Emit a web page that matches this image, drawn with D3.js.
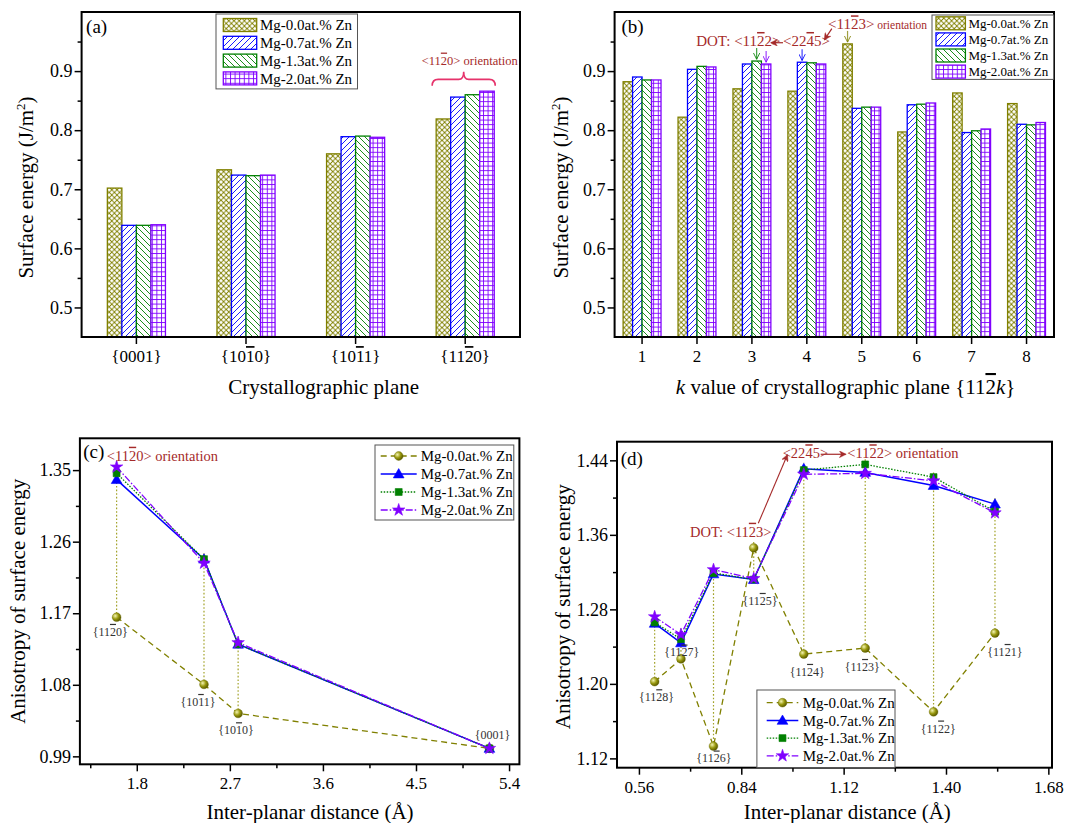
<!DOCTYPE html>
<html><head><meta charset="utf-8">
<script src="https://cdn.jsdelivr.net/npm/d3@7"></script>
<style>
body{margin:0;background:#fff}
svg{display:block}
text{font-family:"Liberation Serif","Times New Roman",serif}
</style>
</head><body>
<svg id="chart" width="1065" height="823"></svg>
<script>
// ---------------- DATA ----------------
const seriesNames = ["Mg-0.0at.% Zn","Mg-0.7at.% Zn","Mg-1.3at.% Zn","Mg-2.0at.% Zn"];

// (a) surface energy of low-index planes
const planesA = ["{0001}","{10_10}","{10_11}","{11_20}"];
const energyA00 = [0.702,0.733,0.760,0.819];
const energyA07 = [0.639,0.724,0.789,0.856];
const energyA13 = [0.639,0.723,0.790,0.860];
const energyA20 = [0.640,0.724,0.788,0.866];

// (b) surface energy of {11-2k} planes
const kValues = [1,2,3,4,5,6,7,8];
const energyB00 = [0.882,0.822,0.870,0.866,0.946,0.797,0.863,0.845];
const energyB07 = [0.890,0.903,0.912,0.915,0.837,0.843,0.796,0.810];
const energyB13 = [0.885,0.908,0.917,0.914,0.839,0.844,0.799,0.809];
const energyB20 = [0.885,0.907,0.912,0.912,0.839,0.846,0.802,0.813];

// bar axes
const barYTicks = [0.5,0.6,0.7,0.8,0.9];
const barYMinor = [0.55,0.65,0.75,0.85,0.95];

// (c) anisotropy vs inter-planar distance, low-index planes
const distC = [1.605,2.45,2.78,5.21];
const planesC = ["{11_20}","{10_11}","{10_10}","{0001}"];
const aniC00 = [1.165,1.0805,1.044,1.000];
const aniC07 = [1.338,1.238,1.131,1.000];
const aniC13 = [1.346,1.238,1.131,1.000];
const aniC20 = [1.354,1.233,1.133,1.000];
const cXTicks = [1.8,2.7,3.6,4.5,5.4];
const cXMinor = [1.35,2.25,3.15,4.05,4.95];
const cYTicks = [0.99,1.08,1.17,1.26,1.35];
const cYMinor = [1.035,1.125,1.215,1.305];

// (d) anisotropy vs inter-planar distance, {11-2k} planes (k = 8 ... 1)
const distD = [0.603,0.675,0.764,0.874,1.011,1.179,1.366,1.534];
const planesD = ["{11_28}","{11_27}","{11_26}","{11_25}","{11_24}","{11_23}","{11_22}","{11_21}"];
const aniD00 = [1.2024,1.2268,1.1332,1.346,1.232,1.2384,1.170,1.2545];
const aniD07 = [1.265,1.244,1.318,1.312,1.431,1.427,1.413,1.393];
const aniD13 = [1.266,1.248,1.319,1.312,1.4295,1.4356,1.422,1.385];
const aniD20 = [1.272,1.253,1.3226,1.313,1.425,1.426,1.418,1.3836];
const dXTicks = [0.56,0.84,1.12,1.40,1.68];
const dXMinor = [0.70,0.98,1.26,1.54];
const dYTicks = [1.12,1.20,1.28,1.36,1.44];
const dYMinor = [1.16,1.24,1.32,1.40];

// ---------------- STYLE / LAYOUT ----------------
const colors = ["#808000","#0000ff","#008000","#8000ff"];
const patternKinds = ["cross","fwd","back","grid"];
const annoColor = "#a52a2a";
const boxA = {l:81.6,t:12,r:520,b:337};
const boxB = {l:614.6,t:12,r:1054,b:337};
const boxC = {l:79.9,t:438.3,r:519.4,b:764.3};
const boxD = {l:617,t:441.7,r:1052,b:767.7};

const svg = d3.select("#chart");
const defs = svg.append("defs");

function makePattern(id, color, kind){
  const s = kind==="grid"?4.6:(kind==="cross"?5.2:6);
  const p = defs.append("pattern").attr("id",id).attr("patternUnits","userSpaceOnUse")
    .attr("width",s).attr("height",s);
  p.append("rect").attr("width",s).attr("height",s).attr("fill","#fff");
  const g = p.append("g").attr("stroke",color).attr("stroke-width",0.9).attr("fill","none");
  if(kind==="fwd"||kind==="cross") g.append("path").attr("d",`M-1,1 L1,-1 M0,${s} L${s},0 M${s-1},${s+1} L${s+1},${s-1}`);
  if(kind==="back"||kind==="cross") g.append("path").attr("d",`M-1,${s-1} L1,${s+1} M0,0 L${s},${s} M${s-1},-1 L${s+1},1`);
  if(kind==="grid") g.append("path").attr("d",`M0,0.5 H${s} M0.5,0 V${s}`);
}
colors.forEach((c,i)=>makePattern("pat"+i,c,patternKinds[i]));

const grad = defs.append("radialGradient").attr("id","ball").attr("cx","35%").attr("cy","35%").attr("r","65%");
grad.append("stop").attr("offset","0%").attr("stop-color","#f4f4b0");
grad.append("stop").attr("offset","55%").attr("stop-color","#9a9a10");
grad.append("stop").attr("offset","100%").attr("stop-color","#5e5e00");

function arrowMarker(id,color,filled){
  defs.append("marker").attr("id",id).attr("viewBox","0 0 10 10").attr("refX",9).attr("refY",5)
    .attr("markerWidth",filled?8:7).attr("markerHeight",filled?7:7).attr("markerUnits","userSpaceOnUse")
    .attr("orient","auto")
    .append("path").attr("d",filled?"M0,0 L10,5 L0,10 L3,5 z":"M0,0.5 L9,5 L0,9.5")
    .attr("fill",filled?color:"none").attr("stroke",color).attr("stroke-width",filled?0.5:1.2);
}
arrowMarker("arRed",annoColor,true);
colors.forEach((c,i)=>arrowMarker("ar"+i,c,false));

// rich text: "_x" overlines x, "~x" italic x
function rich(sel,str){
  sel.text(null);
  let i=0;
  while(i<str.length){
    if(str[i]==="_"){
      sel.append("tspan").style("text-decoration","overline").attr("text-decoration","overline").text(str[i+1]); i+=2;
    } else if(str[i]==="~"){
      sel.append("tspan").style("font-style","italic").text(str[i+1]); i+=2;
    } else {
      let j=i; while(j<str.length && str[j]!=="_" && str[j]!=="~") j++;
      sel.append("tspan").text(str.slice(i,j)); i=j;
    }
  }
}

function frame(box){
  svg.append("rect").attr("x",box.l).attr("y",box.t).attr("width",box.r-box.l).attr("height",box.b-box.t)
    .attr("fill","none").attr("stroke","#000").attr("stroke-width",2);
}

function styleAxis(g,fs){
  g.select(".domain").remove();
  g.selectAll(".tick line").attr("stroke","#000").attr("stroke-width",1.5);
  g.selectAll(".tick text").attr("font-size",fs).attr("fill","#000").attr("font-family","Liberation Serif");
}

function leftAxis(box,y,ticks,minor,fmt){
  const g=svg.append("g").attr("transform",`translate(${box.l},0)`)
    .call(d3.axisLeft(y).tickValues(ticks).tickSize(7).tickPadding(2).tickFormat(fmt));
  styleAxis(g,18);
  const m=svg.append("g").attr("transform",`translate(${box.l},0)`)
    .call(d3.axisLeft(y).tickValues(minor).tickSize(4).tickFormat(""));
  styleAxis(m,18);
}
function bottomAxis(box,x,ticks,minor,fmt,richFn){
  const g=svg.append("g").attr("transform",`translate(0,${box.b})`)
    .call(d3.axisBottom(x).tickValues(ticks).tickSize(7).tickPadding(6).tickFormat(fmt));
  styleAxis(g,17);
  if(richFn) g.selectAll(".tick text").each(function(d){rich(d3.select(this),richFn(d));});
  if(minor){
    const m=svg.append("g").attr("transform",`translate(0,${box.b})`)
      .call(d3.axisBottom(x).tickValues(minor).tickSize(4).tickFormat(""));
    styleAxis(m,17);
  }
}

function yTitle(cx,cy,build){
  const t=svg.append("text").attr("transform",`translate(${cx},${cy}) rotate(-90)`)
    .attr("text-anchor","middle").attr("dy","0.35em").attr("font-size",21);
  build(t);
}
function xTitle(cx,by,str){
  const t=svg.append("text").attr("x",cx).attr("y",by).attr("text-anchor","middle").attr("font-size",21);
  rich(t,str);
}
function panelLabel(box,str,dx,dy){
  svg.append("text").attr("x",box.l+dx).attr("y",box.t+dy).attr("font-size",19).text(str);
}
function energyTitle(t){
  t.append("tspan").text("Surface energy (J/m");
  t.append("tspan").attr("dy",-8).attr("font-size",13).text("2");
  t.append("tspan").attr("dy",8).text(")");
}

// ---------------- BAR PANELS ----------------
function barPanel(box,cats,vals,groupFrac,tickFmt,richFn){
  const x=d3.scaleBand().domain(cats).range([box.l,box.r]).padding(0);
  const y=d3.scaleLinear().domain([0.45,1.0]).range([box.b,box.t]);
  const gw=x.bandwidth()*groupFrac;
  const x1=d3.scaleBand().domain(d3.range(4)).range([0,gw]).padding(0);
  const off=(x.bandwidth()-gw)/2;
  const g=svg.append("g");
  vals.forEach((arr,si)=>{
    g.selectAll(null).data(cats.map((c,i)=>({c,v:arr[i]}))).join("rect")
      .attr("x",d=>x(d.c)+off+x1(si)).attr("y",d=>y(d.v))
      .attr("width",x1.bandwidth()).attr("height",d=>y(0.45)-y(d.v))
      .attr("fill",`url(#pat${si})`).attr("stroke",colors[si]).attr("stroke-width",1.3);
  });
  leftAxis(box,y,barYTicks,barYMinor,d3.format(".1f"));
  bottomAxis(box,x,cats,null,tickFmt,richFn);
  frame(box);
  return {x,y,x1,off};
}

function barLegend(left,top,right,rowStart,rowStep,swX,swW,swH,txtX,fs){
  svg.append("rect").attr("x",left).attr("y",top).attr("width",right-left).attr("height",rowStart*2+rowStep*3-0.5)
    .attr("fill","#fff").attr("stroke","#555").attr("stroke-width",1);
  seriesNames.forEach((n,i)=>{
    const cy=top+rowStart+i*rowStep;
    svg.append("rect").attr("x",left+swX).attr("y",cy-swH/2).attr("width",swW).attr("height",swH)
      .attr("fill",`url(#pat${i})`).attr("stroke",colors[i]).attr("stroke-width",1.3);
    svg.append("text").attr("x",left+txtX).attr("y",cy).attr("dy","0.35em").attr("font-size",fs).text(n);
  });
}

// (a)
const A = barPanel(boxA,planesA,[energyA00,energyA07,energyA13,energyA20],0.53,d=>d,d=>d);
barLegend(216,14,357.5,11,17.8,7.3,33.4,13,44,15);
panelLabel(boxA,"(a)",4.5,21);
yTitle(25.8,(boxA.t+boxA.b)/2+13,energyTitle);
xTitle(323.7,394,"Crystallographic plane");
{
  const c=planesA[3];
  const x0=A.x(c)+A.off-4, x1=A.x(c)+A.x.bandwidth()-A.off+1, xm=(x0+x1)/2;
  const yE=A.y(0.875), yH=A.y(0.886), yP=A.y(0.899);
  svg.append("path").attr("d",`M${x0},${yE} Q${x0},${yH} ${x0+6},${yH} L${xm-5},${yH} Q${xm},${yH} ${xm},${yP} Q${xm},${yH} ${xm+5},${yH} L${x1-6},${yH} Q${x1},${yH} ${x1},${yE}`)
    .attr("fill","none").attr("stroke","#e6336b").attr("stroke-width",1.6);
  const t=svg.append("text").attr("x",xm+6).attr("y",A.y(0.911)).attr("text-anchor","middle")
    .attr("font-size",12.5).attr("fill",annoColor);
  rich(t,"<11_20> orientation");
}

// (b)
const B = barPanel(boxB,kValues,[energyB00,energyB07,energyB13,energyB20],0.69,d=>d,null);
barLegend(932,15,1053.7,8.3,16.1,4,29.4,13,36.4,13);
panelLabel(boxB,"(b)",6.8,21);
yTitle(560.7,(boxB.t+boxB.b)/2+13,energyTitle);
xTitle(845.6,394,"~k value of crystallographic plane {11_2~k}");
{
  const kx=k=>B.x(1)+B.x.bandwidth()/2+(k-1)*B.x.step();
  const barC=(k,si)=>B.x(k)+B.off+B.x1(si)+B.x1.bandwidth()/2;
  const t1=svg.append("text").attr("x",kx(1.985)).attr("y",B.y(0.9425)).attr("font-size",15).attr("fill",annoColor);
  rich(t1,"DOT: <11_22>");
  const t2=svg.append("text").attr("x",kx(3.566)).attr("y",B.y(0.9425)).attr("font-size",15).attr("fill",annoColor);
  rich(t2,"<22_45>");
  const t3=svg.append("text").attr("x",kx(4.386)).attr("y",B.y(0.9707)).attr("font-size",15).attr("fill",annoColor);
  rich(t3,"<11_23>");
  t3.append("tspan").attr("font-size",11.5).text(" orientation");
  svg.append("line").attr("x1",kx(3.566)).attr("y1",B.y(0.948)).attr("x2",kx(3.35)).attr("y2",B.y(0.948))
    .attr("stroke",annoColor).attr("stroke-width",1.2).attr("marker-end","url(#arRed)");
  svg.append("line").attr("x1",kx(4.455)).attr("y1",B.y(0.972)).attr("x2",kx(4.322)).attr("y2",B.y(0.9533))
    .attr("stroke",annoColor).attr("stroke-width",1.2).attr("marker-end","url(#arRed)");
  const small=[{k:3,si:2,v:energyB13[2]},{k:3,si:3,v:energyB20[2]},{k:4,si:1,v:energyB07[3]},{k:5,si:0,v:energyB00[4]}];
  small.forEach(s=>{
    svg.append("line").attr("x1",barC(s.k,s.si)).attr("x2",barC(s.k,s.si))
      .attr("y1",B.y(s.v+0.022)).attr("y2",B.y(s.v+0.003))
      .attr("stroke",colors[s.si]).attr("stroke-opacity",0.75).attr("stroke-width",1.2).attr("marker-end",`url(#ar${s.si})`);
  });
}

// ---------------- LINE PANELS ----------------
const dashes=["6,4",null,"1.5,1.5","7,2,1.5,2"];
const widths=[1.3,1.5,1.3,1.3];
function drawMarker(g,si,x,y){
  if(si===0){
    g.append("circle").attr("cx",x).attr("cy",y).attr("r",4.4).attr("fill","url(#ball)").attr("stroke","#6b6b00").attr("stroke-width",0.4);
  } else {
    const type=[null,d3.symbolTriangle,d3.symbolSquare,d3.symbolStar][si];
    const size=[0,50,48,48][si];
    g.append("path").attr("d",d3.symbol().type(type).size(size)()).attr("transform",`translate(${x},${y+(si===1?0.8:0)})`)
      .attr("fill",colors[si]).attr("stroke",colors[si]).attr("stroke-width",0.6);
  }
}
function linePanel(box,xd,yd,xs,vals,xT,xM,yT,yM,fx,fy,labels,labelPos){
  const x=d3.scaleLinear().domain(xd).range([box.l,box.r]);
  const y=d3.scaleLinear().domain(yd).range([box.b,box.t]);
  const g=svg.append("g");
  xs.forEach((xv,i)=>{
    const ys=vals.map(s=>s[i]);
    const mn=d3.min(ys), mx=d3.max(ys);
    if(mx-mn>0.001){
      g.append("line").attr("x1",x(xv)).attr("x2",x(xv)).attr("y1",y(mn)).attr("y2",y(mx)-6)
        .attr("stroke","#a3a32a").attr("stroke-width",1.2).attr("stroke-dasharray","1.6,2");
    }
  });
  vals.forEach((arr,si)=>{
    const line=d3.line().x((d,i)=>x(xs[i])).y(d=>y(d));
    g.append("path").attr("d",line(arr)).attr("fill","none").attr("stroke",colors[si])
      .attr("stroke-width",widths[si]).attr("stroke-dasharray",dashes[si]);
  });
  vals.forEach((arr,si)=>arr.forEach((v,i)=>drawMarker(g,si,x(xs[i]),y(v))));
  labels.forEach((lb,i)=>{
    const t=g.append("text").attr("x",x(labelPos[i][0])).attr("y",y(labelPos[i][1])).attr("dy","0.35em")
      .attr("text-anchor","middle").attr("font-size",12).attr("fill","#333");
    rich(t,lb);
  });
  leftAxis(box,y,yT,yM,fy);
  bottomAxis(box,x,xT,xM,fx,null);
  frame(box);
  return {x,y};
}
function lineLegend(left,top,right,rowStart,rowStep,l0,l1,txtX,fs){
  svg.append("rect").attr("x",left).attr("y",top).attr("width",right-left).attr("height",rowStart*2+rowStep*3-1)
    .attr("fill","#fff").attr("stroke","#555").attr("stroke-width",1);
  const g=svg.append("g");
  seriesNames.forEach((n,i)=>{
    const cy=top+rowStart+i*rowStep;
    g.append("line").attr("x1",left+l0).attr("x2",left+l1).attr("y1",cy).attr("y2",cy)
      .attr("stroke",colors[i]).attr("stroke-width",widths[i]).attr("stroke-dasharray",dashes[i]);
    drawMarker(g,i,left+(l0+l1)/2,cy);
    g.append("text").attr("x",left+txtX).attr("y",cy).attr("dy","0.35em").attr("font-size",fs).text(n);
  });
}

// (c)
const labelPosC=[[1.543,1.1468],[2.392,1.0587],[2.76,1.0231],[5.24,1.0168]];
const C=linePanel(boxC,[1.25,5.5],[0.98,1.39],distC,[aniC00,aniC07,aniC13,aniC20],
  cXTicks,cXMinor,cYTicks,cYMinor,d3.format(".1f"),d3.format(".2f"),planesC,labelPosC);
lineLegend(375,445,513.8,11,18,5.7,41.7,45.7,15);
panelLabel(boxC,"(c)",3.4,20);
yTitle(17.2,(boxC.t+boxC.b)/2,t=>t.text("Anisotropy of surface energy"));
xTitle(310,819,"Inter-planar distance (Å)");
{
  const t=svg.append("text").attr("x",C.x(1.51)).attr("y",C.y(1.3618)).attr("font-size",14.5).attr("fill",annoColor);
  rich(t,"<11_20> orientation");
}

// (d)
const labelPosD=[[0.608,1.1859],[0.677,1.2339],[0.765,1.1201],[0.891,1.2893],[1.0206,1.2131],[1.171,1.2184],[1.379,1.1523],[1.561,1.2345]];
const D=linePanel(boxD,[0.5,1.69],[1.11,1.46],distD,[aniD00,aniD07,aniD13,aniD20],
  dXTicks,dXMinor,dYTicks,dYMinor,d3.format(".2f"),d3.format(".2f"),planesD,labelPosD);
lineLegend(756.9,690,895,12.7,17.7,9.8,41.4,45.8,15);
panelLabel(boxD,"(d)",3.7,23);
yTitle(562.4,(boxD.t+boxD.b)/2+2,t=>t.text("Anisotropy of surface energy"));
xTitle(847.3,819,"Inter-planar distance (Å)");
{
  const t1=svg.append("text").attr("x",D.x(0.6997)).attr("y",D.y(1.358)).attr("font-size",14.5).attr("fill",annoColor);
  rich(t1,"DOT: <11_23>");
  const t2=svg.append("text").attr("x",D.x(0.9533)).attr("y",D.y(1.4422)).attr("font-size",14.5).attr("fill",annoColor);
  rich(t2,"<22_45>");
  const t3=svg.append("text").attr("x",D.x(1.130)).attr("y",D.y(1.4422)).attr("font-size",14.5).attr("fill",annoColor);
  rich(t3,"<11_22> orientation");
  svg.append("line").attr("x1",D.x(0.8865)).attr("y1",D.y(1.3724)).attr("x2",D.x(0.9659)).attr("y2",D.y(1.4457))
    .attr("stroke",annoColor).attr("stroke-width",1.1).attr("marker-end","url(#arRed)");
  svg.append("line").attr("x1",D.x(1.0572)).attr("y1",D.y(1.4465)).attr("x2",D.x(1.1254)).attr("y2",D.y(1.4465))
    .attr("stroke",annoColor).attr("stroke-width",1.2).attr("marker-end","url(#arRed)");
}
</script>
</body></html>
